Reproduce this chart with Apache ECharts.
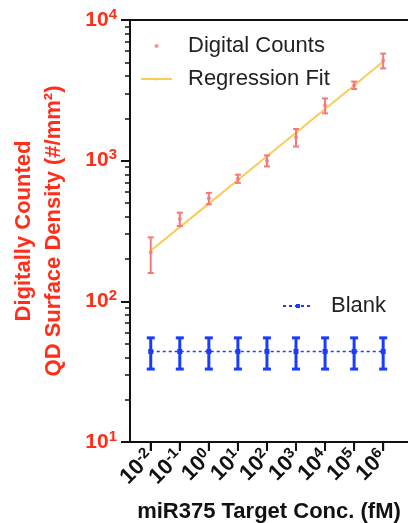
<!DOCTYPE html>
<html>
<head>
<meta charset="utf-8">
<script src="https://cdn.jsdelivr.net/npm/echarts@6/dist/echarts.min.js"></script>
<style>
  html, body { margin: 0; padding: 0; background: #fff; }
  #chart { width: 408px; height: 523px; }
</style>
</head>
<body>
<div id="chart"></div>
<script>
// x categories: concentration exponents (10^n fM)
const concExp = ['-2', '-1', '0', '1', '2', '3', '4', '5', '6']
// digital counts (#/mm2), mean and error
const countMean = [222, 385, 540, 745, 1000, 1470, 2470, 3440, 5150]
const countErr = [63, 42, 50, 50, 90, 210, 300, 210, 620]
// regression fit read at each concentration
const fitValues = [229, 337, 495, 729, 1074, 1581, 2328, 3428, 5070]
// blank control
const blankMean = [44, 44, 44, 44, 44, 44, 44, 44, 44]
const blankErr = [11, 11, 11, 11, 11, 11, 11, 11, 11]
// log minor tick multipliers
const minorMult = [2, 3, 4, 5, 6, 7, 8, 9]

const RED = '#ff2d1a'
const PINK = '#f87878'
const YELLOW = '#fbcb5a'
const BLUE = '#1a3cff'
const FONT = 'Liberation Sans'
const Y_MIN = 10

const minorTicks = []
;[1, 2, 3].forEach((d) => minorMult.forEach((m) => minorTicks.push(d + Math.log10(m))))

const errorBar = (color, width, cap) => (params, api) => {
  const x = api.value(0)
  const m = api.value(1)
  const e = api.value(2)
  const top = api.coord([x, m + e])
  const bot = api.coord([x, m - e])
  const style = { stroke: color, lineWidth: width }
  return {
    type: 'group',
    children: [
      { type: 'line', shape: { x1: top[0], y1: top[1], x2: bot[0], y2: bot[1] }, style },
      { type: 'line', shape: { x1: top[0] - cap, y1: top[1], x2: top[0] + cap, y2: top[1] }, style },
      { type: 'line', shape: { x1: bot[0] - cap, y1: bot[1], x2: bot[0] + cap, y2: bot[1] }, style },
    ],
  }
}

// x ticks below the axis at each category
const xTick = (params, api) => {
  const p = api.coord([api.value(0), Y_MIN])
  return {
    type: 'line',
    shape: { x1: p[0], y1: p[1], x2: p[0], y2: p[1] + 9 },
    style: { stroke: '#111', lineWidth: 2 },
  }
}

const chart = echarts.init(document.getElementById('chart'))
const option = {
  animation: false,
  textStyle: { fontFamily: FONT },
  grid: [
    // data grid: 9 bands of ~29px, first center at x=150.7
    { left: 136.2, width: 261.5, top: 20, bottom: 81, outerBoundsMode: 'none' },
    // frame grid: full axis box
    { left: 130, right: 0, top: 20, bottom: 81, outerBoundsMode: 'none' },
  ],
  legend: [
    {
      data: [
        { name: 'Digital Counts', icon: 'circle' },
        { name: 'Regression Fit' },
      ],
      orient: 'vertical',
      left: 135,
      top: 28,
      itemWidth: 31,
      itemHeight: 4,
      itemGap: 7,
      textStyle: { fontSize: 22, color: '#222', padding: [0, 0, 0, 11], lineHeight: 26 },
    },
    {
      data: ['Blank'],
      left: 277,
      top: 288,
      itemWidth: 30,
      itemHeight: 5,
      textStyle: { fontSize: 22, color: '#222', padding: [0, 0, 0, 13], lineHeight: 26 },
    },
  ],
  xAxis: [
    {
      type: 'category',
      gridIndex: 0,
      data: concExp,
      axisLine: { show: false },
      axisTick: { show: true, alignWithLabel: true, interval: 0, length: 9, lineStyle: { color: '#111', width: 2 } },
      axisLabel: {
        interval: 0,
        rotate: 45,
        margin: 12,
        formatter: (v) => '{b|10}{s|' + v + '}',
        rich: {
          b: { fontSize: 22, fontWeight: 'bold', color: '#111', fontFamily: FONT },
          s: { fontSize: 15, fontWeight: 'bold', color: '#111', fontFamily: FONT, padding: [0, 0, 10, 0] },
        },
      },
    },
    {
      type: 'value',
      gridIndex: 1,
      min: 0,
      max: 1,
      splitLine: { show: false },
      axisLine: { onZero: false, lineStyle: { color: '#111', width: 2 } },
      axisTick: { show: false },
      axisLabel: { show: false },
      name: 'miR375 Target Conc. (fM)',
      nameLocation: 'middle',
      nameGap: 59,
      nameTextStyle: { fontSize: 22, fontWeight: 'bold', color: '#111' },
    },
    {
      type: 'value',
      gridIndex: 1,
      position: 'top',
      min: 0,
      max: 1,
      splitLine: { show: false },
      axisLine: { onZero: false, lineStyle: { color: '#111', width: 2 } },
      axisTick: { show: false },
      axisLabel: { show: false },
    },
  ],
  yAxis: [
    {
      // hidden log scale for the data grid
      type: 'log',
      gridIndex: 0,
      logBase: 10,
      min: Y_MIN,
      max: 10000,
      show: false,
    },
    {
      type: 'log',
      gridIndex: 1,
      logBase: 10,
      min: Y_MIN,
      max: 10000,
      splitLine: { show: false },
      axisLine: { show: true, onZero: false, lineStyle: { color: '#111', width: 2 } },
      axisTick: { length: 9, lineStyle: { color: '#111', width: 2 } },
      axisLabel: {
        margin: 13,
        formatter: (v) => '{b|10}{s|' + Math.round(Math.log10(v)) + '}',
        rich: {
          b: { fontSize: 21, fontWeight: 'bold', color: RED, fontFamily: FONT },
          s: { fontSize: 15, fontWeight: 'bold', color: RED, fontFamily: FONT, padding: [0, 0, 11, 0] },
        },
      },
      name: 'Digitally Counted\nQD Surface Density (#/mm²)',
      nameLocation: 'middle',
      nameGap: 61,
      nameTextStyle: { fontSize: 22, fontWeight: 'bold', color: RED, lineHeight: 30 },
    },
    {
      // minor log ticks, laid over the left axis
      type: 'value',
      gridIndex: 1,
      min: 1,
      max: 4,
      position: 'right',
      offset: -278,
      splitLine: { show: false },
      axisLine: { show: false, onZero: false },
      axisLabel: { show: false },
      axisTick: { inside: true, customValues: minorTicks, length: 5, lineStyle: { color: '#111', width: 1.5 } },
    },
  ],
  series: [
    {
      type: 'custom',
      data: concExp.map((v, i) => [i]),
      renderItem: xTick,
      clip: false,
      silent: true,
    },
    {
      name: 'Regression Fit',
      type: 'line',
      data: fitValues,
      symbol: 'none',
      lineStyle: { color: YELLOW, width: 2 },
      itemStyle: { color: YELLOW },
      z: 3,
    },
    {
      name: 'Digital Counts',
      type: 'scatter',
      data: countMean,
      symbol: 'circle',
      symbolSize: 4,
      itemStyle: { color: PINK },
      z: 4,
    },
    {
      type: 'custom',
      data: countMean.map((v, i) => [i, v, countErr[i]]),
      renderItem: errorBar(PINK, 2, 3),
      z: 4,
    },
    {
      name: 'Blank',
      type: 'line',
      data: blankMean,
      symbol: 'rect',
      symbolSize: 5,
      lineStyle: { color: BLUE, width: 1.5, type: [3, 3] },
      itemStyle: { color: BLUE },
      z: 3,
    },
    {
      type: 'custom',
      data: blankMean.map((v, i) => [i, v, blankErr[i]]),
      renderItem: errorBar(BLUE, 3, 4),
      z: 3,
    },
  ],
}
chart.setOption(option)
</script>
</body>
</html>
